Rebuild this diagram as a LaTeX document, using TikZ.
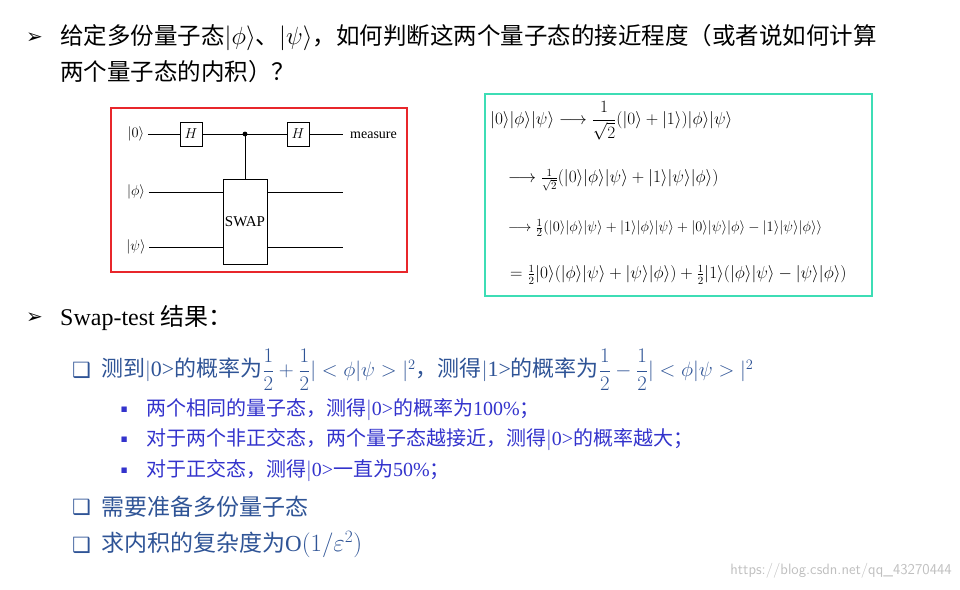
\documentclass[tikz,border=0pt]{standalone}
\usepackage{amsmath,amssymb}
\usepackage{fontspec}
\setmainfont{Liberation Serif}
\newfontfamily\cjk{Noto Sans CJK SC}
\newfontfamily\sym{DejaVu Sans}
\usetikzlibrary{positioning}
\definecolor{lvlone}{HTML}{2F5496}
\definecolor{lvltwo}{HTML}{3333CC}
\definecolor{boxred}{HTML}{E8262B}
\definecolor{boxgreen}{HTML}{3DDDB5}
\newcommand{\kt}[1]{|#1\rangle}
\newcommand{\fs}[1]{\fontsize{#1}{#1}\selectfont}
\tikzset{
  txt/.style={anchor=west,inner sep=0pt},
  gate/.style={draw,thick,minimum width=22pt,minimum height=24pt,inner sep=0pt,font=\fs{15}},
  wire/.style={thick},
  eq/.style={txt,font=\fs{16.3}}
}

\begin{document}
\begin{tikzpicture}[x=1pt,y=-1pt]
\useasboundingbox (0,0) rectangle (960,589);

% TITLE
\node[txt] (arr1) at (26,38) {\sym\fs{20}➢};
\node[txt,font=\cjk\fs{23.5}] (t1) at (60,38) {给定多份量子态$\kt{\phi}$、$\kt{\psi}$，如何判断这两个量子态的接近程度（或者说如何计算};
\node[txt,font=\cjk\fs{23.5}] (t2) at (60,72) {两个量子态的内积）？};

% CIRCUIT
\draw[boxred,line width=1.5pt] (111,108) rectangle (407,272);
\node[font=\fs{14}] (k0) at (136,134) {$\kt{0}$};
\node[font=\fs{14}] (kphi) at (136,192) {$\kt{\phi}$};
\node[font=\fs{14}] (kpsi) at (136,247) {$\kt{\psi}$};
\node[gate] (h1) at (191,134) {$H$};
\node[gate] (h2) at (298,134) {$H$};
\node[draw,thick,minimum width=44pt,minimum height=85pt,inner sep=0pt,font=\fs{15}] (swap) at (245,221.5) {SWAP};
\fill (245,134) circle (2.4pt) coordinate (ctl);
\coordinate (end0) at (343,134);
\coordinate (endphi) at (343,192);
\coordinate (endpsi) at (343,247);
\node[txt,font=\fs{14}] (meas) at (350,135) {measure};
\draw[wire] (k0) -- (h1) -- (h2) -- (end0);
\draw[wire] (ctl) -- (swap.north);
\draw[wire] (kphi) -- (kphi -| swap.west);
\draw[wire] (kpsi) -- (kpsi -| swap.west);
\draw[wire] (kphi -| swap.east) -- (endphi);
\draw[wire] (kpsi -| swap.east) -- (endpsi);

% EQUATIONS
\draw[boxgreen,line width=1.2pt] (485,94) rectangle (872,296);
\node[eq] (e1) at (490,121) {$\kt{0}\kt{\phi}\kt{\psi}\longrightarrow\dfrac{1}{\sqrt{2}}(\kt{0}+\kt{1})\kt{\phi}\kt{\psi}$};
\node[eq] (e2) at (508,180) {$\longrightarrow\tfrac{1}{\sqrt{2}}(\kt{0}\kt{\phi}\kt{\psi}+\kt{1}\kt{\psi}\kt{\phi})$};
\node[eq,font=\fs{15.5}] (e3) at (508,228) {$\longrightarrow\tfrac{1}{2}(\kt{0}\kt{\phi}\kt{\psi}+\kt{1}\kt{\phi}\kt{\psi}+\kt{0}\kt{\psi}\kt{\phi}-\kt{1}\kt{\psi}\kt{\phi}\rangle$};
\node[eq] (e4) at (510,275) {$=\tfrac{1}{2}\kt{0}(\kt{\phi}\kt{\psi}+\kt{\psi}\kt{\phi})+\tfrac{1}{2}\kt{1}(\kt{\phi}\kt{\psi}-\kt{\psi}\kt{\phi})$};

% RESULT
\node[txt] (arr2) at (26,318) {\sym\fs{20}➢};
\node[txt,font=\fs{24}] (t3) at (60,318) {Swap-test {\cjk 结果：}};

\node[txt,lvlone] (c1) at (72,370) {\sym\fs{21}❑};
\node[txt,lvlone,font=\cjk\fs{22}] (s1) at (101,370) {测到{\rmfamily$|$0>}的概率为$\dfrac{1}{2}+\dfrac{1}{2}|<\phi|\psi>|^2$，测得{\rmfamily$|$1>}的概率为$\dfrac{1}{2}-\dfrac{1}{2}|<\phi|\psi>|^2$};

\node[txt,lvltwo] (b1) at (121,410) {\fs{8}$\blacksquare$};
\node[txt,lvltwo,font=\cjk\fs{20}] (s2) at (146,410) {两个相同的量子态，测得{\rmfamily$|$0>}的概率为{\rmfamily 100\%}；};
\node[txt,lvltwo] (b2) at (121,440) {\fs{8}$\blacksquare$};
\node[txt,lvltwo,font=\cjk\fs{20}] (s3) at (146,440) {对于两个非正交态，两个量子态越接近，测得{\rmfamily$|$0>}的概率越大；};
\node[txt,lvltwo] (b3) at (121,471) {\fs{8}$\blacksquare$};
\node[txt,lvltwo,font=\cjk\fs{20}] (s4) at (146,471) {对于正交态，测得{\rmfamily$|$0>}一直为{\rmfamily 50\%}；};

\node[txt,lvlone] (c2) at (72,507) {\sym\fs{21}❑};
\node[txt,lvlone,font=\cjk\fs{23}] (s5) at (101,507) {需要准备多份量子态};
\node[txt,lvlone] (c3) at (72,545) {\sym\fs{21}❑};
\node[txt,lvlone,font=\cjk\fs{23}] (s6) at (101,545) {求内积的复杂度为{\rmfamily O$(1/\varepsilon^2)$}};

% WATERMARK
\node[anchor=east,inner sep=0pt,gray!50,font=\sffamily\fs{15}] (wm) at (952,571) {https://blog.csdn.net/qq\_43270444};
\end{tikzpicture}
\end{document}
